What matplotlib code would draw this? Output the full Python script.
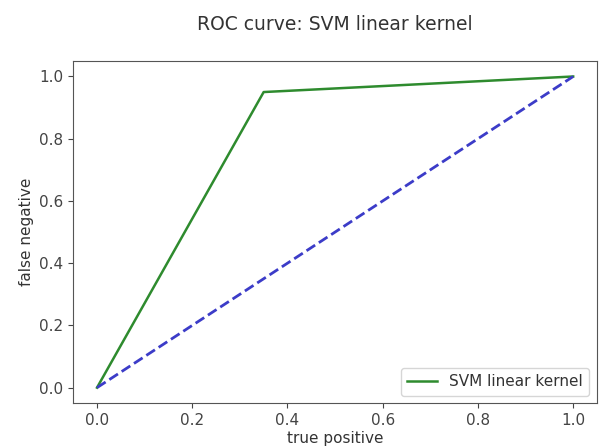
import matplotlib
matplotlib.use('Agg')
import matplotlib.pyplot as plt

# ROC points
fpr = [0.0, 0.35, 1.0]
tpr = [0.0, 0.95, 1.0]
diag_x = [0.0, 1.0]
diag_y = [0.0, 1.0]

txt = '#333333'
plt.rcParams['text.color'] = txt
plt.rcParams['axes.labelcolor'] = txt
plt.rcParams['xtick.color'] = '#444444'
plt.rcParams['ytick.color'] = '#444444'
plt.rcParams['axes.edgecolor'] = '#555555'

fig = plt.figure(figsize=(6, 4.48), dpi=100)
ax = fig.add_axes([0.122, 0.100, 0.873, 0.764])

ax.plot(fpr, tpr, color='#2e8b2e', linewidth=1.8, label='SVM linear kernel')
ax.plot(diag_x, diag_y, '--', color='#3c3cc8', linewidth=2)

ax.set_title('ROC curve: SVM linear kernel', fontsize=13.5, pad=22)
ax.set_xlabel('true positive', fontsize=11, labelpad=2)
ax.set_ylabel('false negative', fontsize=11)
ax.tick_params(labelsize=11)
ax.legend(loc='lower right', fontsize=11)

fig.savefig('out.png', dpi=100)
